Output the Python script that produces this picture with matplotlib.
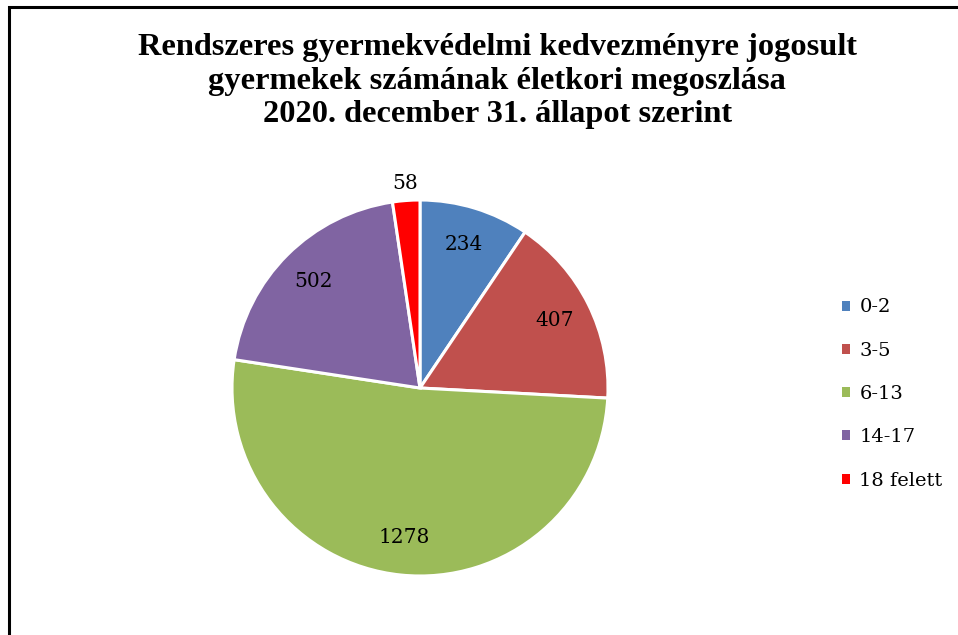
import matplotlib
matplotlib.use("Agg")
import matplotlib.pyplot as plt
from matplotlib.patches import Rectangle, Patch

# Adatok
korcsoportok = ['0-2', '3-5', '6-13', '14-17', '18 felett']
ertekek = [234, 407, 1278, 502, 58]
szinek = ['#4F81BD', '#C0504D', '#9BBB59', '#8064A2', '#FF0000']
cim = ("Rendszeres gyermekvédelmi kedvezményre jogosult\n"
       "gyermekek számának életkori megoszlása\n"
       "2020. december 31. állapot szerint")

W, H = 958, 635
fig = plt.figure(figsize=(W / 100, H / 100), dpi=100)
fig.patch.set_facecolor('white')

# keret (jobb és alsó széle kilóg a képből)
fig.patches.append(Rectangle((9 / W, -20 / H), 1, (635 - 6.5 + 20) / H,
                             transform=fig.transFigure, fill=False,
                             edgecolor='black', linewidth=2.2))

fig.text(0.519, (H - 81) / H, cim, ha='center', va='center',
         fontsize=23.3, fontweight='bold', family='Liberation Serif',
         linespacing=1.22)

# kördiagram: középpont (420, 388), sugár 188 px
cx, cy, r = 420, 388, 188
half = 200
ax = fig.add_axes([(cx - half) / W, (H - cy - half) / H, 2 * half / W, 2 * half / H])
lim = half / r
wedges, texts = ax.pie(ertekek, colors=szinek, startangle=90, counterclock=False,
                       labels=[str(v) for v in ertekek], labeldistance=0.8,
                       wedgeprops=dict(edgecolor='white', linewidth=2.2),
                       textprops=dict(fontsize=14.5, family='DejaVu Serif', color='black'))
ax.set_xlim(-lim, lim)
ax.set_ylim(-lim, lim)
ax.set_aspect('equal')
ax.axis('off')

# a kis szelet címkéje a körön kívül
x4, y4 = texts[4].get_position()
texts[4].set_position((x4 / 0.8 * 1.09, y4 / 0.8 * 1.09))
for t in texts:
    t.set_ha('center')
    t.set_va('center')

handles = [Patch(facecolor=c, edgecolor='none', label=l) for c, l in zip(szinek, korcsoportok)]
fig.legend(handles=handles, loc='upper left', bbox_to_anchor=(824 / W, (H - 281) / H),
           frameon=False, prop=dict(family='DejaVu Serif', size=14),
           handlelength=0.42, handleheight=0.42, handletextpad=0.5, labelspacing=1.3)

fig.savefig('out.png', dpi=100)
